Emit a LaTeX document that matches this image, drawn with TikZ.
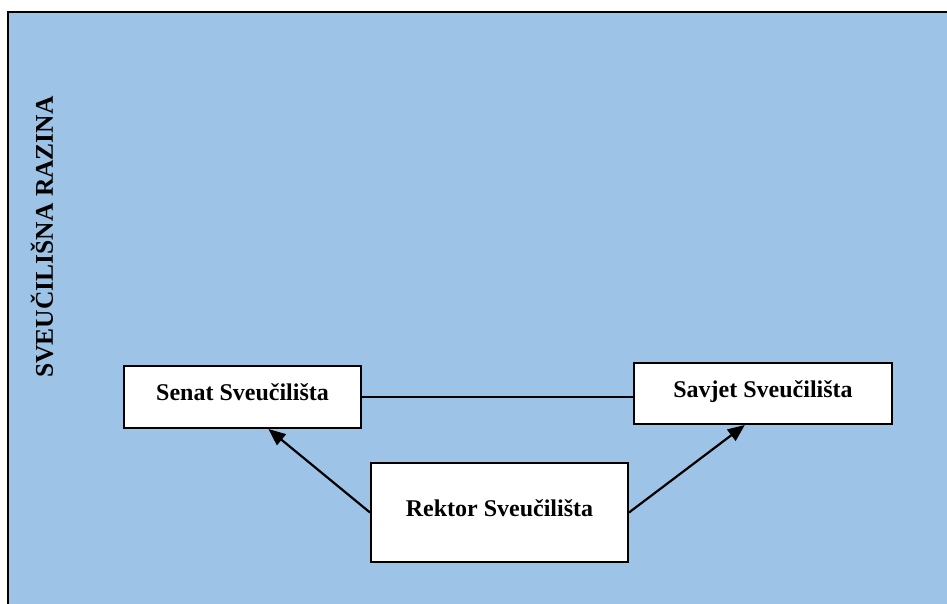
\documentclass[tikz,border=0pt]{standalone}
\usepackage{fontspec}
\setmainfont{Liberation Serif}
\usetikzlibrary{arrows.meta}
\definecolor{razinablue}{HTML}{9DC3E6}
\begin{document}
\begin{tikzpicture}[x=1pt,y=-1pt,font=\fontsize{24}{28}\selectfont\bfseries,
  tijelo/.style={draw,fill=white,line width=2pt,inner sep=0pt,text depth=9pt},
  veza/.style={line width=2.2pt},
  strelica/.style={line width=2.2pt,-{Triangle[length=17pt,width=14pt]}}]
 \useasboundingbox (0,0) rectangle (947,604);
 \clip (0,0) rectangle (947,604);
 \draw[line width=2pt,fill=razinablue] (8,12) rectangle (970,630);
 \node[rotate=90,font=\fontsize{25.5}{30}\selectfont\bfseries] (razina) at (42,237) {SVEUČILIŠNA RAZINA};
 \node[tijelo,minimum width=237pt,minimum height=62pt] (senat) at (242.5,397) {Senat Sveučilišta};
 \node[tijelo,minimum width=258pt,minimum height=61pt] (savjet) at (763,393.5) {Savjet Sveučilišta};
 \node[tijelo,minimum width=257pt,minimum height=99pt] (rektor) at (499.5,512.5) {Rektor Sveučilišta};
 \draw[veza] (senat.east) -- (senat.east -| savjet.west);
 \draw[strelica] (rektor.west) -- (senat.-51);
 \draw[strelica] (rektor.east) -- (savjet.-120);
\end{tikzpicture}
\end{document}
